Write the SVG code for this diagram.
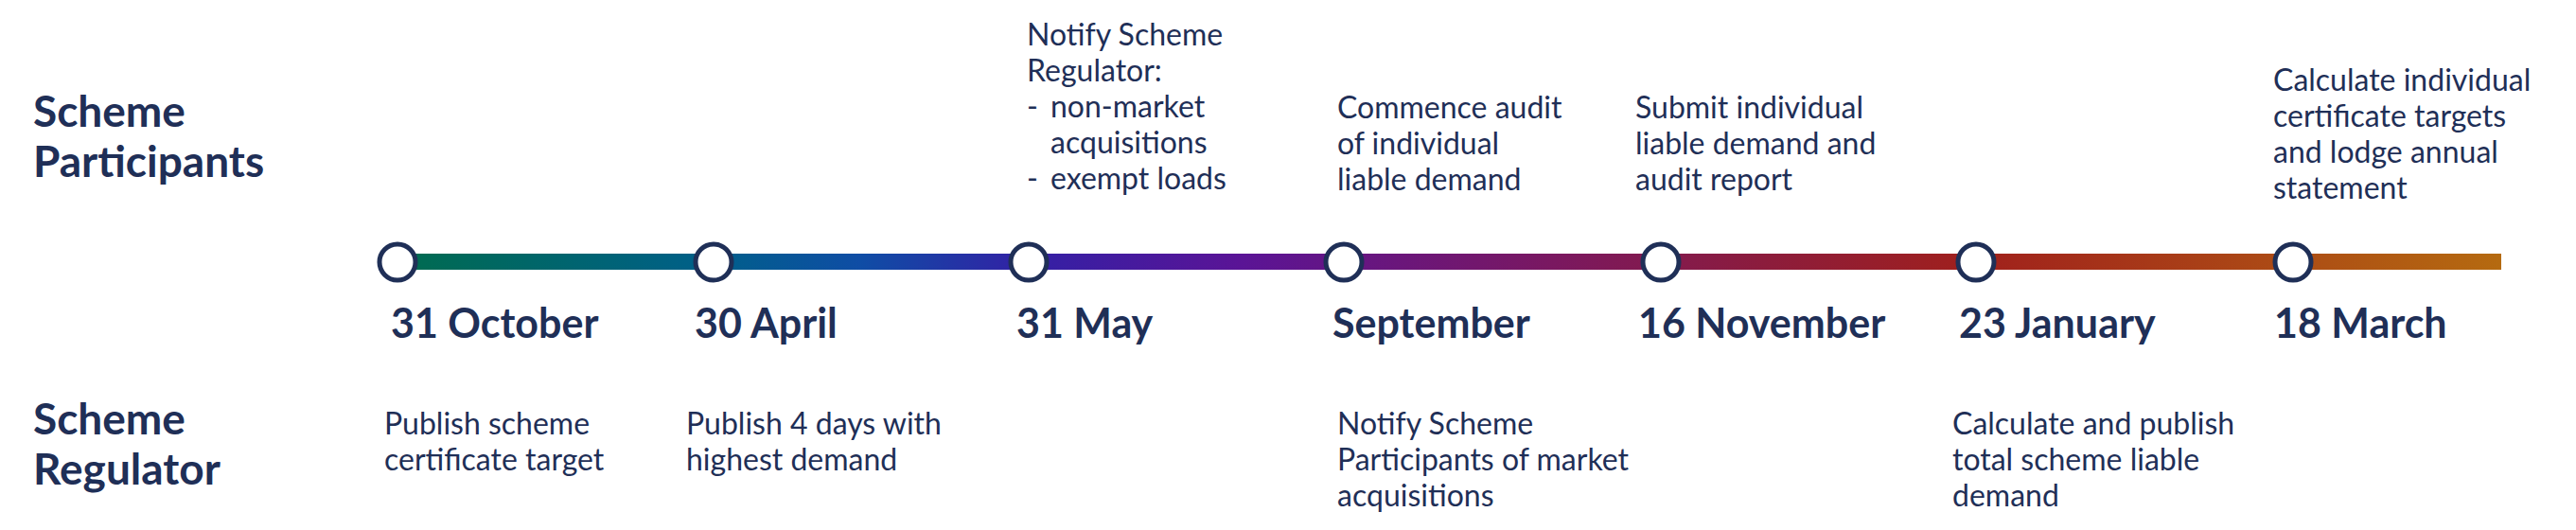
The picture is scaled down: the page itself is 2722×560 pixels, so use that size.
<svg xmlns="http://www.w3.org/2000/svg" width="2722" height="560" viewBox="0 0 2722 560">
<style>
.h{font-family:Lato,"Liberation Sans",sans-serif;font-weight:700;font-size:46px;fill:#1F2F57}
.d{font-family:Lato,"Liberation Sans",sans-serif;font-weight:700;font-size:43px;fill:#1F2F57}
.t{font-family:Lato,"Liberation Sans",sans-serif;font-weight:400;font-size:32px;fill:#1F2F57}
.n{fill:#fff;stroke:#1F2F57;stroke-width:5}
</style>
<defs>
<linearGradient id="g" x1="420" y1="0" x2="2643" y2="0" gradientUnits="userSpaceOnUse">
<stop offset="0" stop-color="#006B4F"/>
<stop offset="0.15" stop-color="#005F8A"/>
<stop offset="0.22" stop-color="#0F4DA5"/>
<stop offset="0.3" stop-color="#3320A5"/>
<stop offset="0.4" stop-color="#5A1496"/>
<stop offset="0.55" stop-color="#7A1860"/>
<stop offset="0.65" stop-color="#8C1C3C"/>
<stop offset="0.75" stop-color="#A0201C"/>
<stop offset="1" stop-color="#B56A10"/>
</linearGradient>
</defs>
<text class="h" x="35" y="134">Scheme</text><text class="h" x="35" y="187">Participants</text>
<text class="h" x="35" y="459">Scheme</text><text class="h" x="35" y="512">Regulator</text>
<g id="connectors"><rect x="420" y="268" width="2223" height="17" fill="url(#g)"/></g>
<g id="n1"><circle class="n" cx="420" cy="277" r="19"/><text class="d" x="413" y="357">31 October</text>
<text class="t" x="406" y="459">Publish scheme</text><text class="t" x="406" y="497">certificate target</text></g>
<g id="n2"><circle class="n" cx="754" cy="277" r="19"/><text class="d" x="734" y="357">30 April</text>
<text class="t" x="725" y="459">Publish 4 days with</text><text class="t" x="725" y="497">highest demand</text></g>
<g id="n3"><circle class="n" cx="1087" cy="277" r="19"/><text class="d" x="1074" y="357">31 May</text>
<text class="t" x="1085" y="48">Notify Scheme</text><text class="t" x="1085" y="86">Regulator:</text>
<text class="t" x="1085" y="124">-</text><text class="t" x="1110" y="124">non-market</text>
<text class="t" x="1110" y="162">acquisitions</text>
<text class="t" x="1085" y="200">-</text><text class="t" x="1110" y="200">exempt loads</text></g>
<g id="n4"><circle class="n" cx="1420" cy="277" r="19"/><text class="d" x="1408" y="357">September</text>
<text class="t" x="1413" y="125">Commence audit</text><text class="t" x="1413" y="163">of individual</text><text class="t" x="1413" y="201">liable demand</text>
<text class="t" x="1413" y="459">Notify Scheme</text><text class="t" x="1413" y="497">Participants of market</text><text class="t" x="1413" y="535">acquisitions</text></g>
<g id="n5"><circle class="n" cx="1755" cy="277" r="19"/><text class="d" x="1731" y="357">16 November</text>
<text class="t" x="1728" y="125">Submit individual</text><text class="t" x="1728" y="163">liable demand and</text><text class="t" x="1728" y="201">audit report</text></g>
<g id="n6"><circle class="n" cx="2088" cy="277" r="19"/><text class="d" x="2070" y="357">23 January</text>
<text class="t" x="2063" y="459">Calculate and publish</text><text class="t" x="2063" y="497">total scheme liable</text><text class="t" x="2063" y="535">demand</text></g>
<g id="n7"><circle class="n" cx="2423" cy="277" r="19"/><text class="d" x="2403" y="357">18 March</text>
<text class="t" x="2402" y="96">Calculate individual</text><text class="t" x="2402" y="134">certificate targets</text><text class="t" x="2402" y="172">and lodge annual</text><text class="t" x="2402" y="210">statement</text></g>
</svg>
